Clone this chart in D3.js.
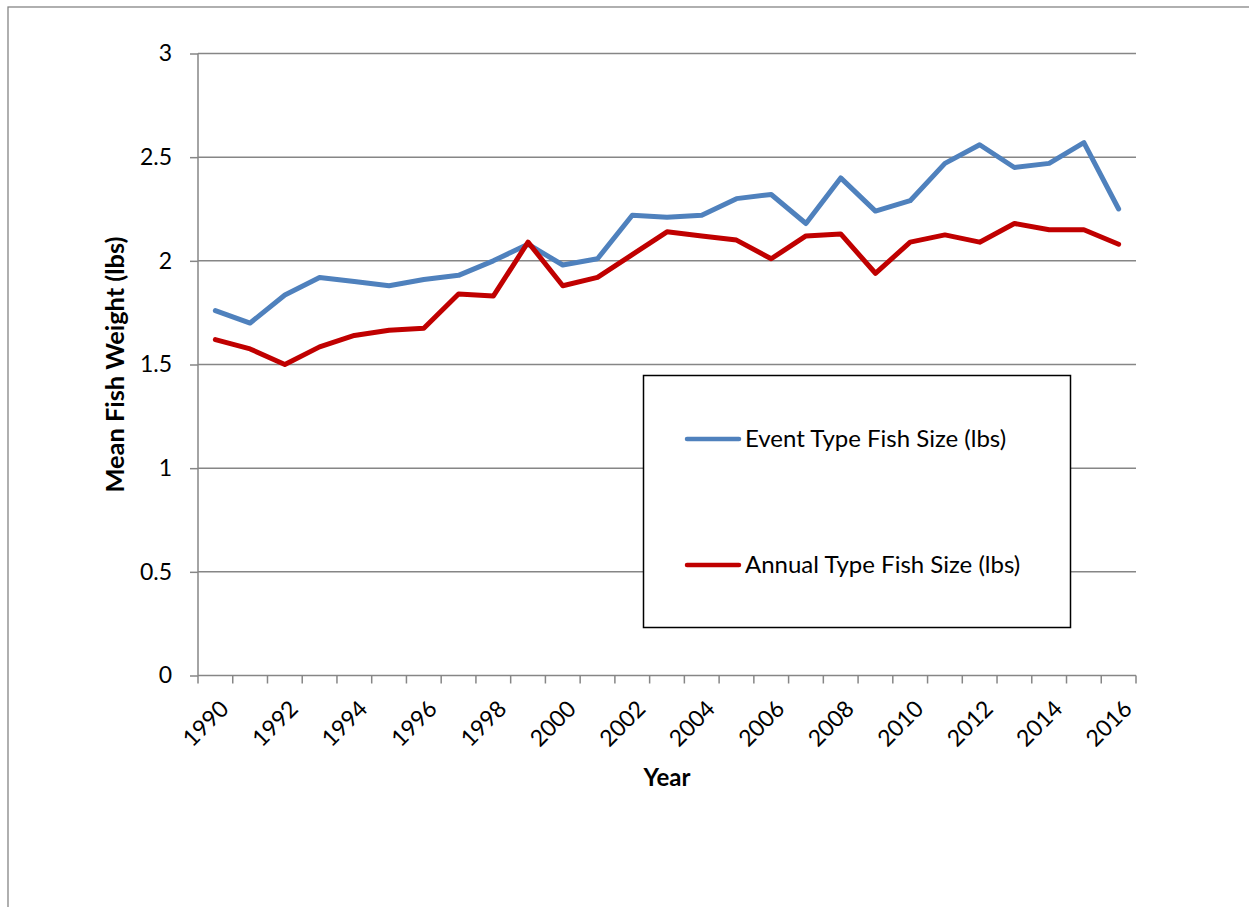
<!DOCTYPE html>
<html>
<head>
<meta charset="utf-8">
<script src="https://cdn.jsdelivr.net/npm/d3@7"></script>
<style>
body { margin: 0; background: #fff; }
svg { display: block; font-family: Lato, "Open Sans", sans-serif; }
</style>
</head>
<body>
<script>
// years on the category axis
var years = d3.range(1990, 2017).map(String);
var tickYears = years.filter(function(d, i) { return i % 2 == 0; });

// mean fish weight, lbs
var eventSize = [1.76, 1.70, 1.835, 1.92, 1.90, 1.88, 1.91, 1.93, 2.00, 2.08,
  1.98, 2.01, 2.22, 2.21, 2.22, 2.30, 2.32, 2.18, 2.40, 2.24,
  2.29, 2.47, 2.56, 2.45, 2.47, 2.57, 2.25];
var annualSize = [1.62, 1.575, 1.50, 1.585, 1.64, 1.665, 1.675, 1.84, 1.83, 2.09,
  1.88, 1.92, 2.03, 2.14, 2.12, 2.10, 2.01, 2.12, 2.13, 1.94,
  2.09, 2.125, 2.09, 2.18, 2.15, 2.15, 2.08];
var yTicks = [0, 0.5, 1, 1.5, 2, 2.5, 3];

var seriesNames = ["Event Type Fish Size (lbs)", "Annual Type Fish Size (lbs)"];
var seriesColors = ["#4F81BD", "#C00000"];

var W = 1249, H = 907;
var margin = {top: 53.5, left: 198, right: 113, bottom: 231.5};
var width = W - margin.left - margin.right,
    height = H - margin.top - margin.bottom;

var svg = d3.select("body").append("svg")
    .attr("width", W)
    .attr("height", H);

// chart area border (runs off the page on right and bottom)
svg.append("rect")
    .attr("x", 8).attr("y", 7)
    .attr("width", 1400).attr("height", 1000)
    .attr("fill", "none")
    .attr("stroke", "#868686")
    .attr("stroke-width", 1.3);

var g = svg.append("g")
    .attr("transform", "translate(" + margin.left + "," + margin.top + ")");

var x = d3.scaleBand().domain(years).range([0, width]);
var y = d3.scaleLinear().domain([0, 3]).range([height, 0]);

// gridlines
g.selectAll(".grid")
    .data(yTicks.filter(function(d) { return d > 0; }))
  .enter().append("line")
    .attr("class", "grid")
    .attr("x1", 0).attr("x2", width)
    .attr("y1", function(d) { return y(d); })
    .attr("y2", function(d) { return y(d); })
    .attr("stroke", "#868686")
    .attr("stroke-width", 1.5);

var yAxis = d3.axisLeft(y).tickValues(yTicks).tickSize(8).tickPadding(18)
    .tickFormat(function(d) { return String(d); });
var yg = g.append("g").call(yAxis);
yg.select(".domain").attr("stroke", "#868686").attr("stroke-width", 1.5).attr("d", "M0,0V" + height);
yg.selectAll(".tick line").attr("stroke", "#868686").attr("stroke-width", 1.5);
yg.selectAll(".tick text").attr("font-size", "23px").attr("fill", "#000")
    .attr("font-family", "Lato, sans-serif");

// x axis: ticks at band edges
var xg = g.append("g").attr("transform", "translate(0," + height + ")");
xg.append("line")
    .attr("x1", 0).attr("x2", width)
    .attr("stroke", "#868686").attr("stroke-width", 1.5);
xg.selectAll(".xtick")
    .data(d3.range(years.length + 1))
  .enter().append("line")
    .attr("class", "xtick")
    .attr("x1", function(i) { return i * x.step(); })
    .attr("x2", function(i) { return i * x.step(); })
    .attr("y1", 0).attr("y2", 8)
    .attr("stroke", "#868686").attr("stroke-width", 1.5);
xg.selectAll(".xlab")
    .data(tickYears)
  .enter().append("text")
    .attr("class", "xlab")
    .attr("transform", function(d) {
      return "translate(" + (x(d) + x.bandwidth() / 2 + 9) + ",29) rotate(-45)";
    })
    .attr("text-anchor", "end")
    .attr("dy", "0.35em")
    .attr("font-size", "23px")
    .text(function(d) { return d; });

// lines
var line = d3.line()
    .x(function(d, i) { return x(years[i]) + x.bandwidth() / 2; })
    .y(function(d) { return y(d); });

[eventSize, annualSize].forEach(function(s, k) {
  g.append("path")
      .datum(s)
      .attr("d", line)
      .attr("fill", "none")
      .attr("stroke", seriesColors[k])
      .attr("stroke-width", 5)
      .attr("stroke-linejoin", "round")
      .attr("stroke-linecap", "round");
});

// axis titles
svg.append("text")
    .attr("x", margin.left + width / 2)
    .attr("y", 786)
    .attr("text-anchor", "middle")
    .attr("font-size", "24px")
    .attr("font-weight", "bold")
    .text("Year");

svg.append("text")
    .attr("transform", "translate(124," + (margin.top + height / 2) + ") rotate(-90)")
    .attr("text-anchor", "middle")
    .attr("font-size", "24px")
    .attr("font-weight", "bold")
    .attr("textLength", 256)
    .attr("lengthAdjust", "spacingAndGlyphs")
    .text("Mean Fish Weight (lbs)");

// legend
var lg = svg.append("g");
lg.append("rect")
    .attr("x", 643.5).attr("y", 375.5)
    .attr("width", 427).attr("height", 252)
    .attr("fill", "#fff")
    .attr("stroke", "#000")
    .attr("stroke-width", 1.5);
var items = lg.selectAll(".item")
    .data(seriesNames)
  .enter().append("g")
    .attr("transform", function(d, i) { return "translate(0," + (439 + i * 126) + ")"; });
items.append("line")
    .attr("x1", 687).attr("x2", 739)
    .attr("stroke", function(d, i) { return seriesColors[i]; })
    .attr("stroke-width", 4.5)
    .attr("stroke-linecap", "round");
items.append("text")
    .attr("x", 745)
    .attr("dy", "0.35em")
    .attr("font-size", "24px")
    .text(function(d) { return d; });
</script>
</body>
</html>
